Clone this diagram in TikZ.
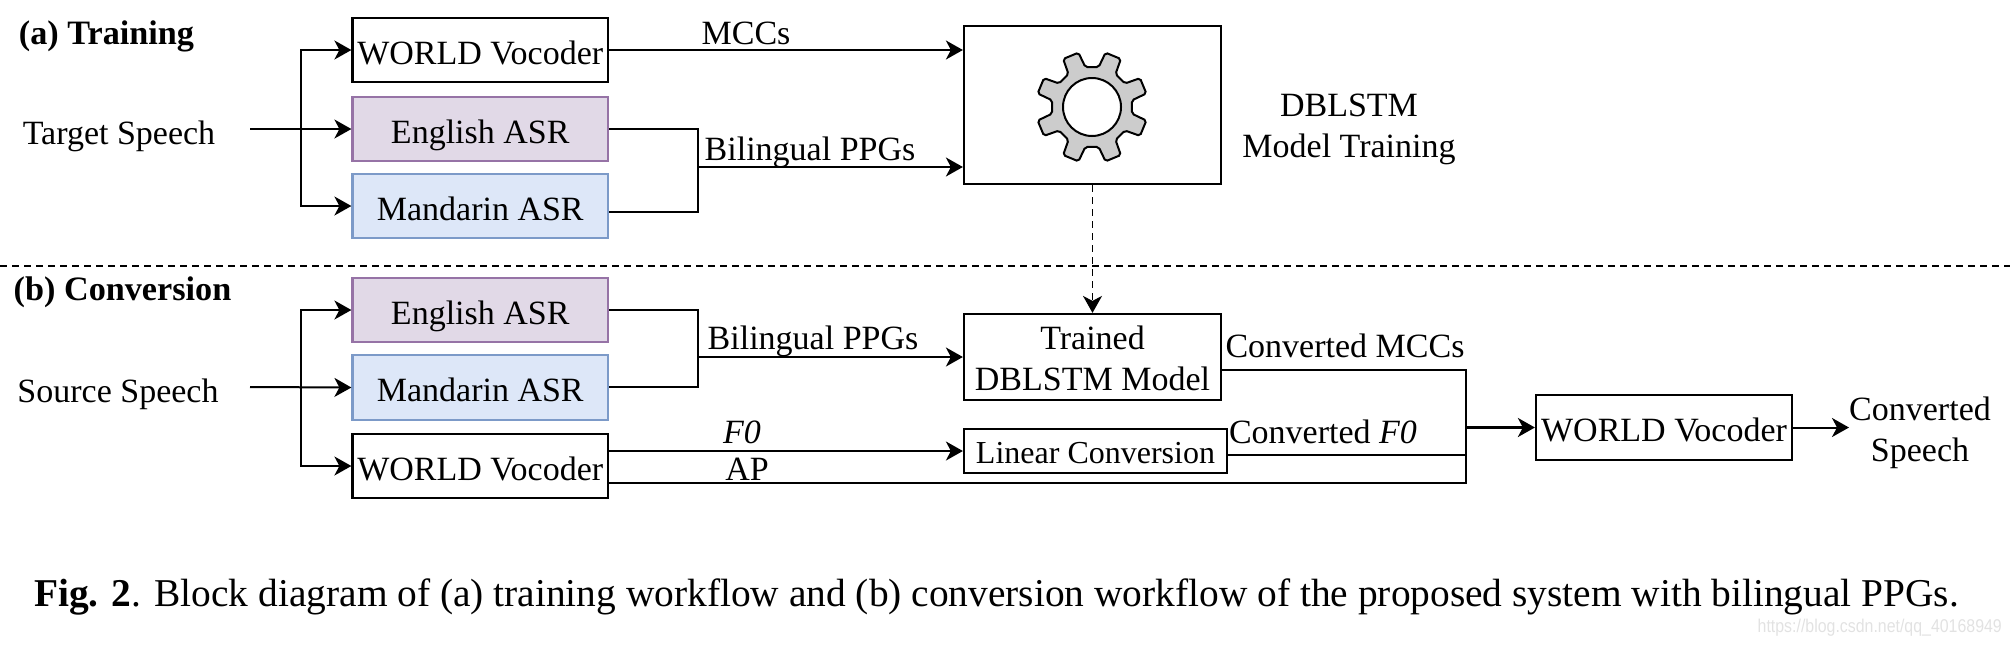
\documentclass[tikz,border=0pt]{standalone}
\usepackage{fontspec}
\setmainfont{Liberation Serif}
\setsansfont{Liberation Sans}
\usetikzlibrary{arrows.meta}
\tikzset{
  x=1pt,y=-1pt,
  boxw/.style={draw=black,line width=2.2pt,fill=white,inner sep=0pt},
  engl/.style={draw=purpleline,line width=2.2pt,fill=purplefill,inner sep=0pt},
  mand/.style={draw=blueline,line width=2.2pt,fill=bluefill,inner sep=0pt},
  lbl/.style={inner sep=0pt,font=\fontsize{34}{41}\selectfont,align=center},
  conn/.style={draw=black,line width=2pt},
  arr/.style={conn,-{Stealth[length=17pt,width=19pt,inset=5pt]}},
  dashln/.style={draw=black,line width=1.9pt,dash pattern=on 7pt off 5pt},
}
\definecolor{purplefill}{HTML}{E1D9E7}
\definecolor{purpleline}{HTML}{9673A6}
\definecolor{bluefill}{HTML}{DDE7F8}
\definecolor{blueline}{HTML}{7C9AC8}
\definecolor{gearfill}{HTML}{CCCCCC}
\definecolor{wmark}{HTML}{E2E2E2}
\newcommand{\tbx}[1]{\raisebox{0pt}[28.6pt][0pt]{#1}}
\begin{document}
\begin{tikzpicture}
\useasboundingbox (0,0) rectangle (2010,646);
\newcommand{\bx}[7]{\node[#1,minimum width=#5pt-#4pt,minimum height=#7pt-#6pt,anchor=center,lbl] (#2) at ({(#4+#5)/2},{(#6+#7)/2}) {#3};}
% training
\bx{boxw}{wa}{\tbx{WORLD Vocoder}}{352.5}{608}{18}{82}
\bx{engl}{ea}{\tbx{English ASR}}{352.5}{608}{97}{161}
\bx{mand}{ma}{\tbx{Mandarin ASR}}{352.5}{608}{174}{238}
\bx{boxw}{big}{}{964}{1221}{26}{184}
% conversion
\bx{engl}{eb}{\tbx{English ASR}}{352.5}{608}{278}{342}
\bx{mand}{mb}{\tbx{Mandarin ASR}}{352.5}{608}{355}{420}
\bx{boxw}{wb}{\tbx{WORLD Vocoder}}{352.5}{608}{434}{498}
\bx{boxw}{tr}{}{964}{1221}{314}{400}
\bx{boxw}{lc}{\fontsize{32}{36}\selectfont\raisebox{0pt}[25pt][0pt]{Linear Conversion}}{964}{1227}{429}{473}
\bx{boxw}{wc}{\tbx{WORLD Vocoder}}{1536}{1792}{395}{460}
% text
\node[lbl] (trt) at (1092.5,358.5) {Trained\\DBLSTM Model};
\node[lbl,font=\fontsize{34.2}{41}\selectfont\bfseries] (ta) at (106.5,36) {(a) Training};
\node[lbl,font=\fontsize{34.2}{41}\selectfont\bfseries] (tb) at (122.5,292) {(b) Conversion};
\node[lbl] (ts) at (119,136) {Target Speech};
\node[lbl] (ss) at (118,394) {Source Speech};
\node[lbl] (mc) at (746,33) {MCCs};
\node[lbl] (bp1) at (810,152) {Bilingual PPGs};
\node[lbl] (bp2) at (813,341) {Bilingual PPGs};
\node[lbl] (dm) at (1349,129) {DBLSTM\\Model Training};
\node[lbl] (cm) at (1345,346) {Converted MCCs};
\node[lbl] (cf) at (1323,432) {Converted \textit{F0}};
\node[lbl] (f0) at (742,432) {\textit{F0}};
\node[lbl] (ap) at (747,469) {AP};
\node[lbl] (cs) at (1920,433) {Converted\\Speech};
\node[inner sep=0pt,anchor=west,font=\fontsize{39.4}{44}\selectfont] (cap) at (34,597) {\textbf{Fig. 2}. Block diagram of (a) training workflow and (b) conversion workflow of the proposed system with bilingual PPGs.};
\node[inner sep=0pt,anchor=east,text=wmark,font=\sffamily\fontsize{18.5}{22}\selectfont] (wm) at (2002,628) {\scalebox{0.86}[1]{https://blog.csdn.net/qq\_40168949}};
% gear
\foreach \a in {22.5,67.5,...,337.5}{%
  \xdef\gearp{\ifdefined\gearp\gearp\fi ({\a-13}:40.5) -- ({\a-8.5}:56) -- ({\a+8.5}:56) -- ({\a+13}:40.5) -- ({\a+22.5}:40) -- }}
\begin{scope}[shift={(1092,107)}]
  \draw[draw=black,line width=2pt,fill=gearfill,rounded corners=2pt] \gearp cycle;
  \node[circle,draw=black,line width=2pt,fill=white,minimum size=58pt,inner sep=0pt] (gh) at (0,0) {};
\end{scope}
% coordinates
\coordinate (sa) at (250,129);
\coordinate (ja) at (301,129);
\coordinate (sb) at (250,387);
\coordinate (jb) at (301,387);
\coordinate (jma) at (698,167);
\coordinate (jmb) at (698,357);
\coordinate (dl) at (0,265.7);
\coordinate (dr) at (2010,265.7);
\coordinate (jc) at (1466,427.5);
\coordinate (ce) at (1849,427.5);
% connectors training
\draw[arr] (sa) -- (ea.west);
\draw[arr] (ja) |- (wa.west);
\draw[arr] (ja) |- (ma.west);
\draw[arr] (wa.east) -- (wa.east -| big.west);
\draw[conn] (ea.east) -| (jma);
\draw[conn] ([yshift=-6pt]ma.east) -| (jma);
\draw[arr] (jma) -- (jma -| big.west);
% dashed
\draw[dashln] (dl) -- (dr);
\draw[dashln,-{Stealth[length=17pt,width=19pt,inset=5pt]}] (big.south) -- (tr.north);
% connectors conversion
\draw[arr] (sb) -- (mb.west);
\draw[arr] (jb) |- (eb.west);
\draw[arr] (jb) |- (wb.west);
\draw[conn] (eb.east) -| (jmb);
\draw[conn] (mb.east |- jb) -| (jmb);
\draw[arr] (jmb) -- (tr.west);
\draw[arr] ([yshift=15pt]wb.east) -- (lc.west);
\draw[conn] ([yshift=-13pt]tr.east) -| (jc);
\draw[conn] ([yshift=-4pt]lc.east) -- ([yshift=-4pt]lc.east -| jc);
\draw[conn] ([yshift=-17pt]wb.east) -| (jc);
\draw[arr,line width=2.6pt] (jc) -- (wc.west);
\draw[arr] (wc.east) -- (ce);
\end{tikzpicture}
\end{document}
